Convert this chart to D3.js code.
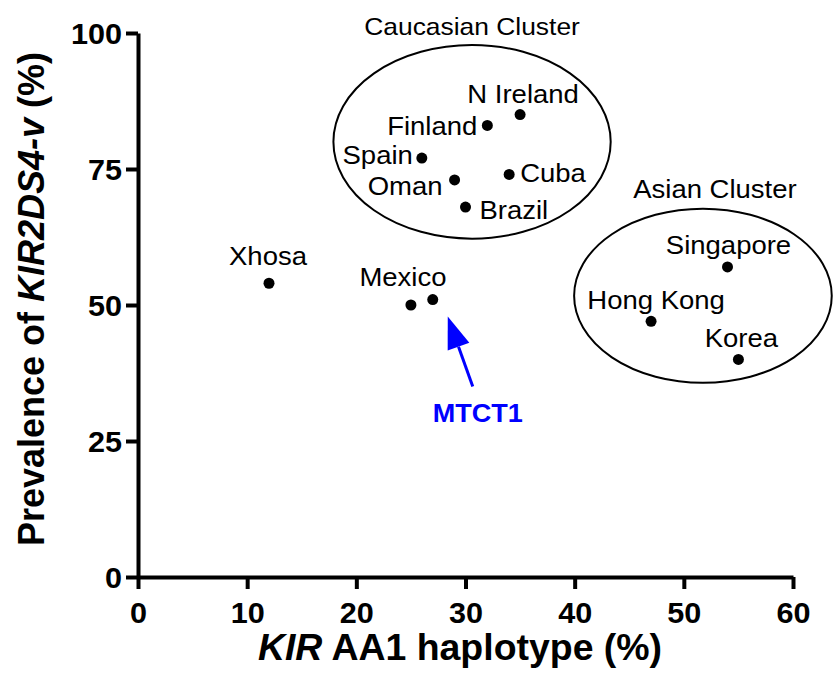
<!DOCTYPE html>
<html>
<head>
<meta charset="utf-8">
<script src="https://cdn.jsdelivr.net/npm/d3@7"></script>
<style>
  body { margin: 0; background: #fff; }
  text { font-family: Arial, "Liberation Sans", Helvetica, sans-serif; }
</style>
</head>
<body>
<svg id="chart" width="833" height="682"></svg>
<script>
// Population data: KIR AA1 haplotype frequency vs KIR2DS4-v prevalence
const populations = ["Xhosa", "Mexico", "MTCT1", "Spain", "Finland", "N Ireland", "Oman", "Cuba", "Brazil", "Singapore", "Hong Kong", "Korea"];
const aa1Haplotype = [12, 25, 27, 26, 32, 35, 29, 34, 30, 54, 47, 55];
const kir2ds4vPrevalence = [54, 50, 51, 77, 83, 85, 73, 74, 68, 57, 47, 40];

const xTicks = [0, 10, 20, 30, 40, 50, 60];
const yTicks = [0, 25, 50, 75, 100];

// Cluster ellipses in data units
const clusterNames = ["Caucasian Cluster", "Asian Cluster"];
const clusterCx = [30.6, 51.75];
const clusterCy = [80.0, 51.7];
const clusterRx = [12.7, 11.8];
const clusterRy = [17.8, 16.0];

const highlighted = "MTCT1";

// Label placement relative to each point (pixels)
const labelLayout = {
  "Xhosa":     { dx: -1,  dy: -18, anchor: "middle" },
  "Mexico":    { dx: -8,  dy: -19, anchor: "middle" },
  "MTCT1":     null,
  "Spain":     { dx: -9,  dy: 6,   anchor: "end" },
  "Finland":   { dx: -10, dy: 10,  anchor: "end" },
  "N Ireland": { dx: 3,   dy: -12, anchor: "middle" },
  "Oman":      { dx: -12, dy: 15,  anchor: "end" },
  "Cuba":      { dx: 11,  dy: 8,   anchor: "start" },
  "Brazil":    { dx: 14,  dy: 12,  anchor: "start" },
  "Singapore": { dx: 1,   dy: -13, anchor: "middle" },
  "Hong Kong": { dx: 5,   dy: -12, anchor: "middle" },
  "Korea":     { dx: 3,   dy: -12, anchor: "middle" }
};
// Cluster title placement relative to the ellipse top (pixels)
const clusterTitleDx = [0, 12];
const clusterTitleDy = [-10, -11];

// Horizontal widening of the typeface used for annotations
const SX = 1.1;

const svg = d3.select("#chart");

const x = d3.scaleLinear().domain([0, 60]).range([138, 793]);
const y = d3.scaleLinear().domain([0, 100]).range([577, 33]);

// Place a text element at (px, py), widened horizontally around its anchor
function placeText(sel, px, py, sx) {
  return sel.attr("x", 0).attr("y", 0)
    .attr("transform", `translate(${px},${py}) scale(${sx},1)`);
}

// Axes
const xAxis = svg.append("g")
  .attr("transform", `translate(0,${y(0)})`)
  .call(d3.axisBottom(x).tickValues(xTicks).tickSize(12).tickPadding(8).tickSizeOuter(0));
const yAxis = svg.append("g")
  .attr("transform", `translate(${x(0)},0)`)
  .call(d3.axisLeft(y).tickValues(yTicks).tickSize(12).tickPadding(5).tickSizeOuter(0));

[xAxis, yAxis].forEach(g => {
  g.select(".domain").attr("stroke", "#000").attr("stroke-width", 4);
  g.selectAll(".tick line").attr("stroke", "#000").attr("stroke-width", 4);
  g.selectAll(".tick text")
    .attr("fill", "#000")
    .style("font-family", "Arial, 'Liberation Sans', sans-serif")
    .style("font-size", "30px")
    .style("font-weight", "bold");
});
xAxis.selectAll(".tick text").each(function () {
  const t = d3.select(this);
  t.attr("dy", null);
  placeText(t, 0, 46, 1.02);
});
yAxis.selectAll(".tick text").each(function () {
  const t = d3.select(this);
  t.attr("dy", "0.36em");
  placeText(t, -16, 0, 1.02);
});

// Axis titles
const xTitle = placeText(svg.append("text"), 460, 660, 1.04)
  .attr("text-anchor", "middle")
  .style("font-size", "36px").style("font-weight", "bold");
xTitle.append("tspan").style("font-style", "italic").text("KIR");
xTitle.append("tspan").text(" AA1 haplotype (%)");

const yTitle = svg.append("text")
  .attr("transform", "translate(44,299) rotate(-90)")
  .attr("text-anchor", "middle")
  .style("font-size", "36px").style("font-weight", "bold");
yTitle.append("tspan").text("Prevalence of ");
yTitle.append("tspan").style("font-style", "italic").text("KIR2DS4-v");
yTitle.append("tspan").text(" (%)");

// Cluster ellipses and titles
clusterNames.forEach((name, i) => {
  const cx = x(clusterCx[i]), cy = y(clusterCy[i]);
  const rx = x(clusterRx[i]) - x(0), ry = y(0) - y(clusterRy[i]);
  svg.append("ellipse")
    .attr("cx", cx).attr("cy", cy).attr("rx", rx).attr("ry", ry)
    .attr("fill", "none").attr("stroke", "#000").attr("stroke-width", 2);
  placeText(svg.append("text"), cx + clusterTitleDx[i], cy - ry + clusterTitleDy[i], SX)
    .attr("text-anchor", "middle")
    .style("font-size", i === 0 ? "24px" : "25px")
    .text(name);
});

// Points
const pts = populations.map((p, i) => ({ name: p, xv: aa1Haplotype[i], yv: kir2ds4vPrevalence[i] }));

svg.append("g").selectAll("circle")
  .data(pts).join("circle")
  .attr("cx", d => x(d.xv)).attr("cy", d => y(d.yv))
  .attr("r", 5.5).attr("fill", "#000");

svg.append("g").selectAll("text")
  .data(pts.filter(d => labelLayout[d.name]))
  .join("text")
  .each(function (d) {
    const L = labelLayout[d.name];
    placeText(d3.select(this), x(d.xv) + L.dx, y(d.yv) + L.dy, SX)
      .attr("text-anchor", L.anchor);
  })
  .style("font-size", "25px")
  .text(d => d.name);

// Arrow pointing at the highlighted cohort
const h = pts.find(d => d.name === highlighted);
const hx = x(h.xv), hy = y(h.yv);
const tip = [hx + 15, hy + 17];
const tail = [hx + 40, hy + 87];
const ang = Math.atan2(tip[1] - tail[1], tip[0] - tail[0]);
const headLen = 32, headW = 11.5;
const base = [tip[0] - headLen * Math.cos(ang), tip[1] - headLen * Math.sin(ang)];
const perp = [-Math.sin(ang), Math.cos(ang)];
svg.append("line")
  .attr("x1", tail[0]).attr("y1", tail[1])
  .attr("x2", base[0]).attr("y2", base[1])
  .attr("stroke", "#0000ff").attr("stroke-width", 3);
svg.append("path")
  .attr("d", d3.line()([
    tip,
    [base[0] + perp[0] * headW, base[1] + perp[1] * headW],
    [base[0] - perp[0] * headW, base[1] - perp[1] * headW]
  ]) + "Z")
  .attr("fill", "#0000ff");
placeText(svg.append("text"), hx + 45, hy + 122, 1.04)
  .attr("text-anchor", "middle")
  .attr("fill", "#0000ff")
  .style("font-size", "26px").style("font-weight", "bold")
  .text(highlighted);
</script>
</body>
</html>
